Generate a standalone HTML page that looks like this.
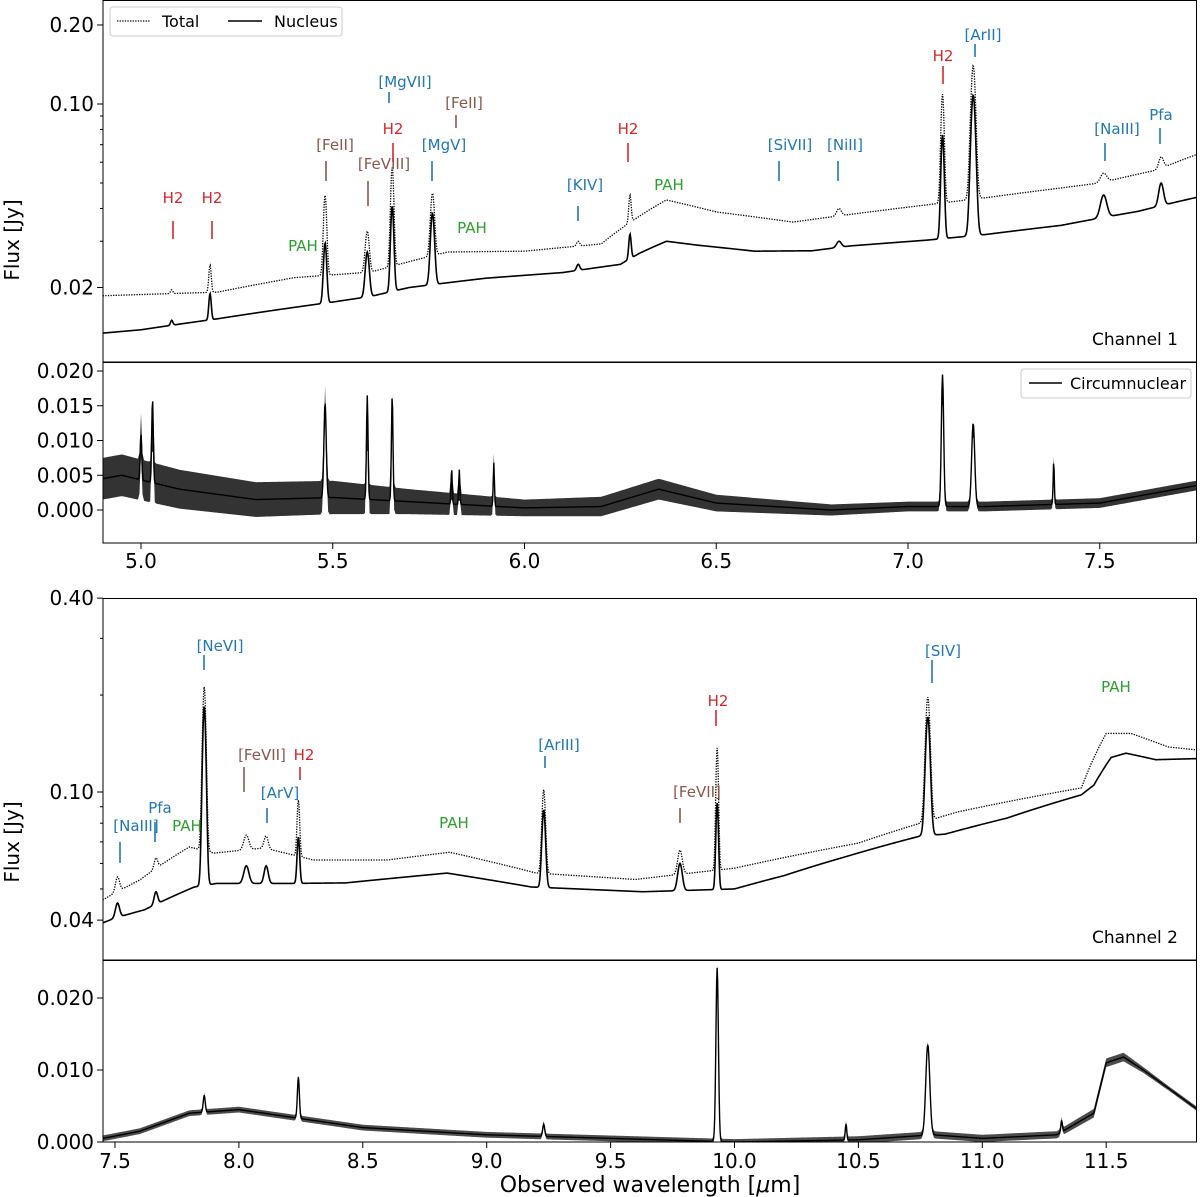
<!DOCTYPE html>
<html><head><meta charset="utf-8">
<style>
html,body{margin:0;padding:0;background:#fff;}
svg{display:block;font-family:"DejaVu Sans","Liberation Sans",sans-serif;}
</style></head>
<body>
<svg id="chart" width="1200" height="1197" viewBox="0 0 1200 1197"></svg>
<script>
// ---------- DATA ----------
const c1NucW = [4.90,5.00,5.20,5.40,5.50,5.60,5.70,5.90,6.10,6.25,6.30,6.37,6.45,6.60,6.75,6.85,7.05,7.20,7.40,7.60,7.75];
const c1NucF = [0.0134,0.0138,0.0152,0.0168,0.0176,0.0185,0.0200,0.0217,0.0228,0.0245,0.0270,0.0300,0.0290,0.0275,0.0276,0.0288,0.0303,0.0318,0.0345,0.0390,0.0440];
const c1TotW = [4.90,5.20,5.40,5.60,5.80,6.00,6.20,6.37,6.50,6.70,6.90,7.05,7.20,7.40,7.50,7.65,7.75];
const c1TotF = [0.0186,0.0192,0.0218,0.0229,0.0273,0.0275,0.0293,0.0431,0.0388,0.0355,0.0388,0.0413,0.0439,0.0479,0.0500,0.0561,0.0640];
const c1LineW   = [5.08,5.18,5.48,5.59,5.655,5.76,6.14,6.275,6.82,7.09,7.17,7.51,7.66];
const c1LineNuc = [0.0150,0.0190,0.0296,0.0273,0.0409,0.0384,0.0245,0.0320,0.0300,0.0762,0.1080,0.0450,0.0500];
const c1LineTot = [0.0196,0.0244,0.0450,0.0328,0.0575,0.0458,0.0300,0.0450,0.0400,0.1090,0.1400,0.0545,0.0629];
const c1LineSig = [0.003,0.003,0.004,0.005,0.004,0.005,0.004,0.003,0.006,0.004,0.006,0.008,0.006];
const r1W = [4.90,4.95,5.10,5.30,5.50,5.70,6.00,6.20,6.35,6.50,6.80,7.00,7.20,7.50,7.75];
const r1F = [0.0045,0.0050,0.0030,0.0015,0.0018,0.0012,0.0003,0.0005,0.0030,0.0010,0.0000,0.0005,0.0005,0.0010,0.0035];
const r1Noise = [0.0030,0.0030,0.0028,0.0025,0.0024,0.0018,0.0012,0.0014,0.0015,0.0012,0.0008,0.0007,0.0007,0.0007,0.0007];
const r1LineW = [5.00,5.03,5.48,5.59,5.655,5.81,5.83,5.92,7.09,7.17,7.38];
const r1LineF = [0.0110,0.0160,0.0155,0.0165,0.0165,0.0060,0.0058,0.0068,0.0195,0.0125,0.0070];
const r1LineSig = [0.002,0.002,0.003,0.002,0.002,0.0015,0.0015,0.0015,0.003,0.004,0.0015];
const c2NucW = [7.45,7.50,7.62,7.82,7.91,8.20,8.43,8.84,9.18,9.63,10.00,10.20,10.45,10.75,10.85,11.10,11.40,11.45,11.52,11.58,11.70,11.87];
const c2NucF = [0.0392,0.0406,0.0431,0.0507,0.0520,0.0520,0.0522,0.0560,0.0507,0.0490,0.0500,0.0550,0.0630,0.0730,0.0740,0.0830,0.0980,0.1050,0.1280,0.1320,0.1260,0.1270];
const c2TotW = [7.45,7.60,7.80,7.90,8.10,8.30,8.60,8.85,9.20,9.60,10.00,10.50,10.75,10.90,11.20,11.40,11.50,11.60,11.75,11.87];
const c2TotF = [0.0462,0.0533,0.0675,0.0646,0.0670,0.0615,0.0615,0.0650,0.0560,0.0535,0.0580,0.0694,0.0800,0.0867,0.0965,0.1030,0.1520,0.1520,0.1380,0.1350];
const c2LineW   = [7.51,7.665,7.86,8.03,8.11,8.24,9.23,9.78,9.93,10.78];
const c2LineNuc = [0.0452,0.0490,0.1840,0.0590,0.0590,0.0725,0.0880,0.0600,0.0924,0.1710];
const c2LineTot = [0.0545,0.0624,0.2120,0.0735,0.0730,0.0944,0.1015,0.0660,0.1370,0.1970];
const c2LineSig = [0.008,0.007,0.007,0.010,0.008,0.005,0.007,0.009,0.005,0.009];
const r2W = [7.45,7.60,7.80,8.00,8.20,8.50,9.00,9.50,10.00,10.50,10.80,11.00,11.30,11.45,11.50,11.57,11.65,11.75,11.87];
const r2F = [0.0005,0.0015,0.0040,0.0045,0.0035,0.0020,0.0010,0.0005,0.0000,0.0003,0.0010,0.0005,0.0010,0.0040,0.0110,0.0118,0.0100,0.0075,0.0045];
const r2Noise = [0.0004,0.0004,0.0004,0.0004,0.0004,0.0004,0.0004,0.0004,0.0004,0.0005,0.0005,0.0005,0.0005,0.0006,0.0006,0.0006,0.0004,0.0003,0.0003];
const r2LineW = [7.86,8.24,9.23,9.93,10.45,10.78,11.32];
const r2LineF = [0.0065,0.0090,0.0025,0.0242,0.0025,0.0135,0.0030];
const r2LineSig = [0.004,0.004,0.004,0.005,0.003,0.008,0.003];
const x1Ticks = [5.0,5.5,6.0,6.5,7.0,7.5];
const x2Ticks = [7.5,8.0,8.5,9.0,9.5,10.0,10.5,11.0,11.5];
const y1Major = [0.02,0.10,0.20];
const y1Labels = ["0.02","0.10","0.20"];
const y1Minor = [0.03,0.04,0.05,0.06,0.07,0.08,0.09];
const r1Ticks = [-0.005,0.000,0.005,0.010,0.015,0.020];
const r1Labels = ["-0.005","0.000","0.005","0.010","0.015","0.020"];
const y2Major = [0.04,0.10,0.40];
const y2Labels = ["0.04","0.10","0.40"];
const y2Minor = [0.05,0.06,0.07,0.08,0.09,0.2,0.3];
const r2Ticks = [0.000,0.010,0.020];
const r2Labels = ["0.000","0.010","0.020"];

// ---------- HELPERS ----------
const NS="http://www.w3.org/2000/svg";
const svg=document.getElementById('chart');
function mk(tag,attrs,parent){const e=document.createElementNS(NS,tag);for(const k in attrs)e.setAttribute(k,attrs[k]);(parent||svg).appendChild(e);return e;}
function interp(ws,fs,w){if(w<=ws[0])return fs[0];for(let i=1;i<ws.length;i++){if(w<=ws[i]){const t=(w-ws[i-1])/(ws[i]-ws[i-1]);return fs[i-1]+t*(fs[i]-fs[i-1]);}}return fs[fs.length-1];}
function model(cw,cf,lw,lp,ls,w){let f=interp(cw,cf,w);for(let i=0;i<lw.length;i++){const a=lp[i]-interp(cw,cf,lw[i]);const d=(w-lw[i])/ls[i];if(Math.abs(d)<6)f+=a*Math.exp(-0.5*d*d);}return f;}

const X1=w=>141+(w-5.0)*383.5;
const X2=w=>115+(w-7.5)*247.8;
const Y1=f=>104-262.5*Math.log10(f/0.1);
const R1=f=>510-6950*f;
const Y2=f=>792-322*Math.log10(f/0.1);
const R2=f=>1142-7200*f;
const L=103,R=1197;
const panels=[[0,362,'ch1-flux-panel'],[362,543,'ch1-residual-panel'],[598,960,'ch2-flux-panel'],[960,1142,'ch2-residual-panel']];

function clip(id,y0,y1){const c=mk('clipPath',{id:id});mk('rect',{x:L,y:y0,width:R-L,height:y1-y0},c);}
clip('cp0',0,362);clip('cp1',362,543);clip('cp2',598,960);clip('cp3',960,1142);

function pathFrom(X,Y,w0,w1,fn,step){let d='';for(let w=w0;w<=w1+1e-9;w+=step){const x=X(w),y=Y(fn(w));d+=(d?'L':'M')+x.toFixed(2)+','+y.toFixed(2);}return d;}

let g,p;
g=mk('g',{'clip-path':'url(#cp0)'});

p=mk('path',{d:pathFrom(X1,Y1,4.9,7.76,w=>model(c1TotW,c1TotF,c1LineW,c1LineTot,c1LineSig,w),0.0015),fill:'none',stroke:'#000','stroke-width':1.3,'stroke-dasharray':'1.3,1.3'},g);


p=mk('path',{d:pathFrom(X1,Y1,4.9,7.76,w=>model(c1NucW,c1NucF,c1LineW,c1LineNuc,c1LineSig,w),0.0015),fill:'none',stroke:'#000','stroke-width':1.6},g);


g=mk('g',{'clip-path':'url(#cp1)'});

(function(){let up='',dn=[];for(let w=4.9;w<=7.76;w+=0.004){const f=model(r1W,r1F,r1LineW,r1LineF,r1LineSig,w);const n=interp(r1W,r1Noise,w);up+=(up?'L':'M')+X1(w).toFixed(2)+','+R1(f+n).toFixed(2);dn.push(X1(w).toFixed(2)+','+R1(f-n).toFixed(2));}
const b=mk('path',{d:up+'L'+dn.reverse().join('L')+'Z',fill:'#000','fill-opacity':0.8,stroke:'none'},g);

})();
p=mk('path',{d:pathFrom(X1,R1,4.9,7.76,w=>model(r1W,r1F,r1LineW,r1LineF,r1LineSig,w),0.0015),fill:'none',stroke:'#000','stroke-width':1.4},g);


g=mk('g',{'clip-path':'url(#cp2)'});

p=mk('path',{d:pathFrom(X2,Y2,7.45,11.87,w=>model(c2TotW,c2TotF,c2LineW,c2LineTot,c2LineSig,w),0.002),fill:'none',stroke:'#000','stroke-width':1.3,'stroke-dasharray':'1.3,1.3'},g);


p=mk('path',{d:pathFrom(X2,Y2,7.45,11.87,w=>model(c2NucW,c2NucF,c2LineW,c2LineNuc,c2LineSig,w),0.002),fill:'none',stroke:'#000','stroke-width':1.6},g);


g=mk('g',{'clip-path':'url(#cp3)'});

(function(){let up='',dn=[];for(let w=7.45;w<=11.87;w+=0.005){const f=model(r2W,r2F,r2LineW,r2LineF,r2LineSig,w);const n=interp(r2W,r2Noise,w);up+=(up?'L':'M')+X2(w).toFixed(2)+','+R2(f+n).toFixed(2);dn.push(X2(w).toFixed(2)+','+R2(f-n).toFixed(2));}
const b=mk('path',{d:up+'L'+dn.reverse().join('L')+'Z',fill:'#000','fill-opacity':0.7,stroke:'none'},g);

})();
p=mk('path',{d:pathFrom(X2,R2,7.45,11.87,w=>model(r2W,r2F,r2LineW,r2LineF,r2LineSig,w),0.002),fill:'none',stroke:'#000','stroke-width':1.4},g);



panels.forEach(([y0,y1,n])=>{const r=mk('rect',{x:L,y:y0+0.5,width:R-L-0.5,height:y1-y0-0.5,fill:'none',stroke:'#000','stroke-width':1});});
function txt(s,x,y,attrs,name){const t=mk('text',Object.assign({x:x,y:y},attrs));t.textContent=s;return t;}
function ytick(y,len,name){const l=mk('line',{x1:L-len,x2:L,y1:y,y2:y,stroke:'#000','stroke-width':1});}
y1Major.forEach((v,i)=>{ytick(Y1(v),6,'y-tick-ch1');txt(y1Labels[i],L-9,Y1(v)+7,{'text-anchor':'end','font-size':20},'y-tick-label-ch1');});
y1Minor.forEach(v=>ytick(Y1(v),3,'y-minor-tick-ch1'));
r1Ticks.forEach((v,i)=>{if(R1(v)<=544){ytick(R1(v),6,'y-tick-res1');txt(r1Labels[i],L-9,R1(v)+7,{'text-anchor':'end','font-size':20},'y-tick-label-res1');}});
y2Major.forEach((v,i)=>{ytick(Y2(v),6,'y-tick-ch2');txt(y2Labels[i],L-9,Y2(v)+7,{'text-anchor':'end','font-size':20},'y-tick-label-ch2');});
y2Minor.forEach(v=>ytick(Y2(v),3,'y-minor-tick-ch2'));
r2Ticks.forEach((v,i)=>{ytick(R2(v),6,'y-tick-res2');txt(r2Labels[i],L-9,R2(v)+7,{'text-anchor':'end','font-size':20},'y-tick-label-res2');});
x1Ticks.forEach(v=>{const x=X1(v);const l=mk('line',{x1:x,x2:x,y1:543,y2:549,stroke:'#000'});txt(v.toFixed(1),x,568,{'text-anchor':'middle','font-size':20},'x-tick-label-ch1');});
x2Ticks.forEach(v=>{const x=X2(v);const l=mk('line',{x1:x,x2:x,y1:1142,y2:1148,stroke:'#000'});txt(v.toFixed(1),x,1168,{'text-anchor':'middle','font-size':20},'x-tick-label-ch2');});
</script>
<script>
(function(){
const NS="http://www.w3.org/2000/svg";const svg=document.getElementById('chart');
function t(s,x,y,size,color,name,anchor){const e=document.createElementNS(NS,'text');e.setAttribute('x',x);e.setAttribute('y',y);e.setAttribute('font-size',size);e.setAttribute('fill',color);e.setAttribute('text-anchor',anchor||'middle');e.textContent=s;svg.appendChild(e);return e;}
function ln(x1,y1,x2,y2,color,w,name,dash){const e=document.createElementNS(NS,'line');e.setAttribute('x1',x1);e.setAttribute('y1',y1);e.setAttribute('x2',x2);e.setAttribute('y2',y2);e.setAttribute('stroke',color);e.setAttribute('stroke-width',w);if(dash)e.setAttribute('stroke-dasharray',dash);svg.appendChild(e);}
const xt=t('',650,1192,22,'#000','x-axis-title');
xt.innerHTML='Observed wavelength [<tspan font-style="italic">μ</tspan>m]';
const y1=t('Flux [Jy]',0,0,20,'#000','y-axis-title-ch1');y1.setAttribute('transform','translate(19,240) rotate(-90)');
const y2=t('Flux [Jy]',0,0,20,'#000','y-axis-title-ch2');y2.setAttribute('transform','translate(19,842) rotate(-90)');
t('Channel 1',1178,345,17,'#000','channel-1-label','end');
t('Channel 2',1178,943,17,'#000','channel-2-label','end');
const r=document.createElementNS(NS,'rect');r.setAttribute('x',110);r.setAttribute('y',7);r.setAttribute('width',232);r.setAttribute('height',29);r.setAttribute('rx',3);r.setAttribute('fill','#fff');r.setAttribute('stroke','#ccc');svg.appendChild(r);
ln(117,21,150,21,'#000',1.3,'legend-total-swatch','1.3,1.3');t('Total',162,27,16,'#000','legend-total-label','start');
ln(228,21,262,21,'#000',1.5,'legend-nucleus-swatch');t('Nucleus',274,27,16,'#000','legend-nucleus-label','start');
const r2=document.createElementNS(NS,'rect');r2.setAttribute('x',1021);r2.setAttribute('y',369);r2.setAttribute('width',170);r2.setAttribute('height',29);r2.setAttribute('rx',3);r2.setAttribute('fill','#fff');r2.setAttribute('stroke','#ccc');svg.appendChild(r2);
ln(1029,383,1062,383,'#000',1.5,'legend-circumnuclear-swatch');t('Circumnuclear',1070,389,16,'#000','legend-circumnuclear-label','start');
const B='#1f77b4',Rd='#d62728',Br='#8c564b',G='#2ca02c';
const ann=[
['H2',Rd,173,203,173,221,239],['H2',Rd,212,203,212,221,239],['PAH',G,303,251,0,0,0],
['[FeII]',Br,335,150,326,161,181],['[FeVIII]',Br,384,169,368,181,206],['H2',Rd,393,134,393,143,162],
['[MgVII]',B,405,87,389,92,103],['[FeII]',Br,464,108,456,115,128],['[MgV]',B,444,150,432,161,181],
['PAH',G,472,233,0,0,0],['[KIV]',B,585,190,578,206,221],['H2',Rd,628,134,628,143,162],['PAH',G,669,190,0,0,0],
['[SiVII]',B,790,150,779,161,181],['[NiII]',B,845,150,838,161,181],['H2',Rd,943,61,943,66,84],
['[ArII]',B,983,40,975,44,57],['[NaIII]',B,1117,134,1105,143,161],['Pfa',B,1161,120,1160,128,144],
['[NaIII]',B,136,831,120,842,863],['Pfa',B,160,813,155,822,842],['PAH',G,187,831,0,0,0],
['[NeVI]',B,220,651,204,655,670],['[FeVII]',Br,262,760,244,767,792],['H2',Rd,304,760,300,767,780],
['[ArV]',B,280,798,267,808,823],['PAH',G,454,828,0,0,0],['[ArIII]',B,559,750,545,756,768],
['[FeVII]',Br,697,797,680,808,823],['H2',Rd,718,706,716,710,726],['[SIV]',B,943,656,932,660,683],['PAH',G,1116,692,0,0,0]];
ann.forEach(a=>{t(a[0],a[2],a[3],15,a[1],'line-label');if(a[4])ln(a[4],a[5],a[4],a[6],a[1],1.6,'line-marker');});
})();
</script>
</body></html>
